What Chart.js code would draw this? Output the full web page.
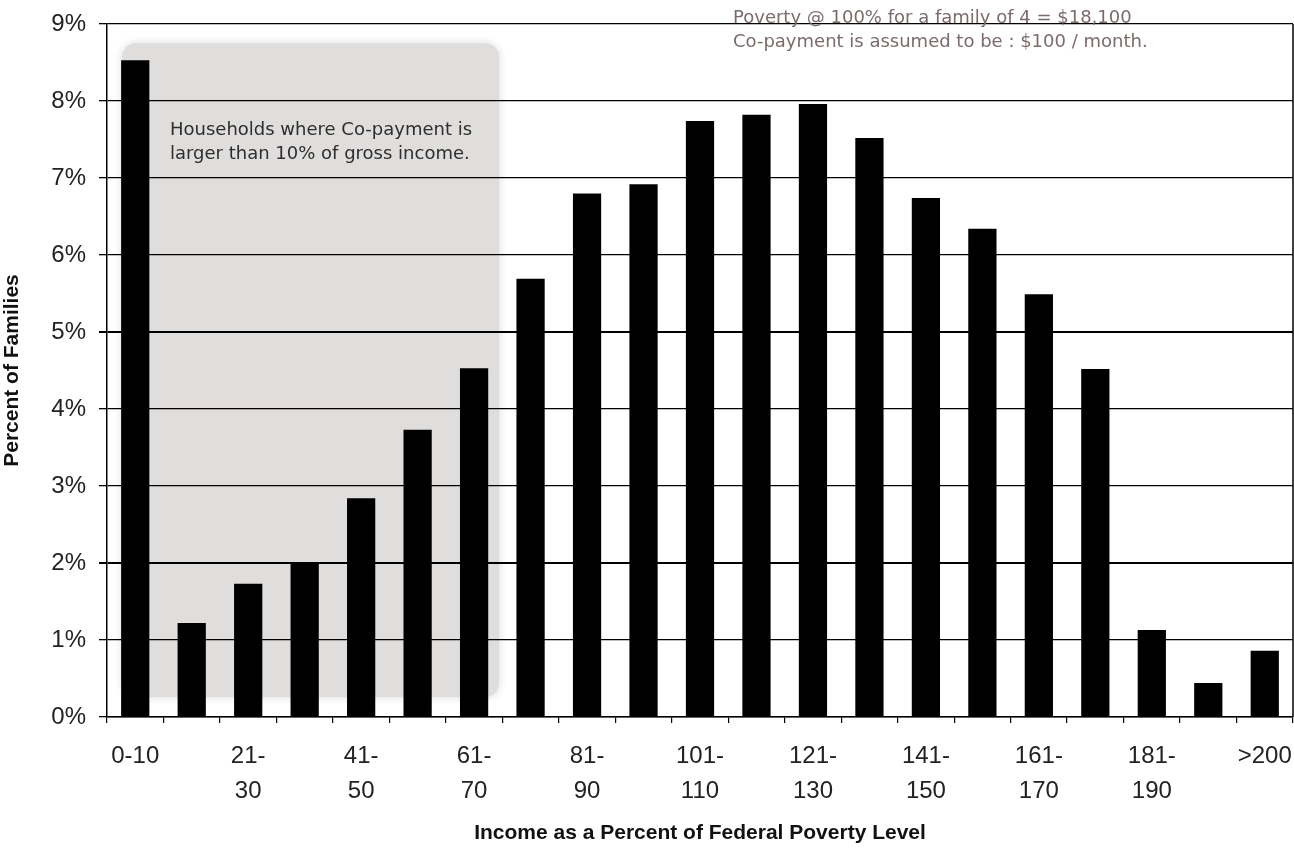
<!DOCTYPE html>
<html>
<head>
<meta charset="utf-8">
<script src="https://cdn.jsdelivr.net/npm/chart.js@4/dist/chart.umd.min.js"></script>
<style>
  html, body { margin: 0; padding: 0; background: #fff; }
  #wrap { width: 1294px; height: 848px; position: relative; }
</style>
</head>
<body>
<div id="wrap"><canvas id="povertyChart"></canvas></div>
<script>
// Income brackets (% of federal poverty level)
const categories = ['0-10', '11-20', '21-30', '31-40', '41-50', '51-60', '61-70', '71-80', '81-90', '91-100',
    '101-110', '111-120', '121-130', '131-140', '141-150', '151-160', '161-170', '171-180', '181-190', '191-200', '>200'];

// Only every other bracket is labelled on the axis
const tickLabels = ['0-10', '', ['21-', '30'], '', ['41-', '50'], '', ['61-', '70'], '', ['81-', '90'], '',
    ['101-', '110'], '', ['121-', '130'], '', ['141-', '150'], '', ['161-', '170'], '', ['181-', '190'], '', '>200'];

// Percent of families in each bracket
const percentFamilies = [8.53, 1.22, 1.73, 2.0, 2.84, 3.73, 4.53, 5.69, 6.80, 6.92,
    7.74, 7.82, 7.96, 7.52, 6.74, 6.34, 5.49, 4.52, 1.13, 0.44, 0.86];

const yTicks = [0, 1, 2, 3, 4, 5, 6, 7, 8, 9];

const boxNote = ['Households where Co-payment is', 'larger than 10% of gross income.'];
const topNote = ['Poverty @ 100% for a family of 4 = $18,100', 'Co-payment is assumed to be : $100 / month.'];

// Grey shaded box behind the first seven brackets + text notes
const notesPlugin = {
    id: 'notes',
    beforeDraw(chart) {
        const ctx = chart.ctx;
        const x = chart.scales.x;
        const y = chart.scales.y;
        const left = x.getPixelForValue(0) - 13;
        const right = x.getPixelForValue(6) + 25;
        const top = y.getPixelForValue(8.75);
        const bottom = y.getPixelForValue(0.26);
        ctx.save();
        ctx.shadowColor = 'rgba(0,0,0,0.15)';
        ctx.shadowBlur = 8;
        ctx.fillStyle = '#e0dedd';
        ctx.beginPath();
        ctx.roundRect(left, top, right - left, bottom - top, 14);
        ctx.fill();
        ctx.restore();
    },
    afterDraw(chart) {
        const ctx = chart.ctx;
        const area = chart.chartArea;
        ctx.save();
        // right-hand frame line
        ctx.strokeStyle = '#000000';
        ctx.lineWidth = 1.5;
        ctx.beginPath();
        ctx.moveTo(area.right, area.top);
        ctx.lineTo(area.right, area.bottom);
        ctx.stroke();

        ctx.font = '18px "DejaVu Sans"';
        ctx.textBaseline = 'alphabetic';
        ctx.fillStyle = '#2e2e2e';
        ctx.fillText(boxNote[0], 170, 135);
        ctx.fillText(boxNote[1], 170, 159);
        ctx.fillStyle = '#7d6b6b';
        ctx.fillText(topNote[0], 733, 23);
        ctx.fillText(topNote[1], 733, 47);
        ctx.restore();
    }
};

const ctx = document.getElementById('povertyChart');
new Chart(ctx, {
    type: 'bar',
    data: {
        labels: categories,
        datasets: [{
            data: percentFamilies,
            backgroundColor: '#000000',
            categoryPercentage: 1.0,
            barPercentage: 0.5
        }]
    },
    options: {
        responsive: true,
        maintainAspectRatio: false,
        animation: false,
        layout: { padding: { top: 24, right: 1, left: 0, bottom: 0 } },
        plugins: {
            legend: { display: false },
            tooltip: { enabled: false }
        },
        scales: {
            x: {
                grid: {
                    drawOnChartArea: false,
                    drawTicks: true,
                    tickLength: 6,
                    color: '#000000',
                    lineWidth: 1.2
                },
                border: { color: '#000000', width: 1.5 },
                ticks: {
                    autoSkip: false,
                    maxRotation: 0,
                    color: '#222222',
                    padding: 16,
                    font: { family: 'Liberation Sans, Arial', size: 24, lineHeight: 1.45 },
                    callback: function(value, index) {
                        return tickLabels[index];
                    }
                },
                title: {
                    display: true,
                    text: 'Income as a Percent of Federal Poverty Level',
                    color: '#111111',
                    font: { family: '"Liberation Sans", Arial', size: 21, weight: 'bold' },
                    padding: { top: 0, bottom: 2 }
                },
                afterFit: function(scale) {
                    scale.height = 131;
                    scale.paddingLeft = 0;
                    scale.paddingRight = 0;
                }
            },
            y: {
                min: 0,
                max: 9,
                afterBuildTicks: function(scale) {
                    scale.ticks = yTicks.map(function(v) { return { value: v }; });
                },
                grid: {
                    color: '#000000',
                    lineWidth: function(c) { return (c.tick && (c.tick.value === 5 || c.tick.value === 2)) ? 2 : 1.3; },
                    tickLength: 8
                },
                border: { color: '#000000', width: 1.5 },
                ticks: {
                    color: '#222222',
                    padding: 13,
                    font: { family: 'Liberation Sans, Arial', size: 24 },
                    callback: function(value) { return value + '%'; }
                },
                title: {
                    display: true,
                    text: 'Percent of Families',
                    color: '#111111',
                    font: { family: '"Liberation Sans", Arial', size: 21, weight: 'bold' },
                    padding: { top: 0, bottom: 4 }
                },
                afterFit: function(scale) {
                    scale.width = 107;
                    scale.paddingTop = 0;
                    scale.paddingBottom = 0;
                }
            }
        }
    },
    plugins: [notesPlugin]
});
</script>
</body>
</html>
